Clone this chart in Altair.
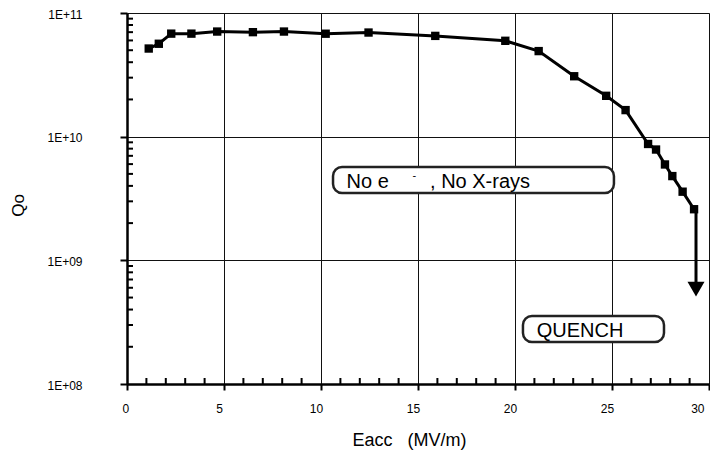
import altair as alt
import pandas as pd

# ---- data ----
eacc = [1.12, 1.64, 2.28, 3.32, 4.65, 6.49, 8.09, 10.24, 12.45, 15.89, 19.50,
        21.22, 23.05, 24.70, 25.70, 26.86, 27.27, 27.73, 28.11, 28.64, 29.23]
q0 = [5.16e10, 5.64e10, 6.81e10, 6.81e10, 7.08e10, 7.00e10, 7.08e10, 6.80e10,
      6.95e10, 6.53e10, 5.96e10, 4.92e10, 3.08e10, 2.14e10, 1.64e10, 8.73e9,
      7.87e9, 5.96e9, 4.80e9, 3.59e9, 2.59e9]

x_ticks = [0, 5, 10, 15, 20, 25, 30]
y_ticks = [1e8, 1e9, 1e10, 1e11]
y_tick_labels = ["1E+08", "1E+09", "1E+10", "1E+11"]
x_minor = [i for i in range(1, 30) if i % 5]
y_minor = [k * 10 ** d for d in (8, 9, 10) for k in range(2, 10)]

# annotation boxes (data units)
box_x1 = [10.62, 20.41]
box_x2 = [25.10, 27.68]
box_y1 = [5.69e9, 3.55e8]
box_y2 = [3.50e9, 2.19e8]

# annotation texts
note_text = ["No e", ", No X-rays", "QUENCH"]
note_x = [11.32, 15.62, 21.12]
note_y = [3.85e9, 3.85e9, 2.42e8]
sup_text = ["-"]
sup_x = [14.81]
sup_y = [4.83e9]

# quench arrow
arrow_x = [29.33]
arrow_top = [2.59e9]
arrow_bottom = [6.32e8]
head_y = [5.86e8]

FONT = "Liberation Sans"

label_expr = " : ".join(
    f"datum.value == {v:g} ? '{l}'" for v, l in zip(y_ticks, y_tick_labels)
) + " : ''"

xscale = alt.Scale(domain=[0, 30], nice=False, zero=False)
yscale = alt.Scale(type="log", domain=[1e8, 1e11], nice=False)

xaxis = alt.Axis(
    values=x_ticks, title="Eacc\u00a0\u00a0\u00a0(MV/m)", grid=True,
    gridColor="#111111", gridWidth=1, domainColor="black", domainWidth=2.5,
    tickColor="black", tickWidth=2, tickSize=6, labelPadding=13,
    labelOffset=-5, labelFont=FONT, labelFontSize=12, labelColor="black",
    titleFont=FONT, titleFontSize=18, titleFontWeight="normal",
    titleColor="black", titleX=282, titleY=61, titleAlign="center",
    titleBaseline="alphabetic",
)
yaxis = alt.Axis(
    values=y_ticks, labelExpr=label_expr, title="Qo", grid=True,
    gridColor="#111111", gridWidth=1, domainColor="black", domainWidth=2.5,
    tickColor="black", tickWidth=2, tickSize=7, labelPadding=38,
    labelOffset=1,
    labelFont=FONT, labelFontSize=12, labelColor="black",
    titleFont=FONT, titleFontSize=17, titleFontWeight="normal",
    titleColor="black", titleX=-109, titleY=192, titleAngle=270,
    titleAlign="center", titleBaseline="middle",
)

def X(field):
    return alt.X(field, type="quantitative", scale=xscale, axis=xaxis)

def Y(field):
    return alt.Y(field, type="quantitative", scale=yscale, axis=yaxis)

df = pd.DataFrame({"Eacc": eacc, "Q0": q0})

line = alt.Chart(df).mark_line(color="black", strokeWidth=3).encode(
    x=X("Eacc"), y=Y("Q0"))
pts = alt.Chart(df).mark_point(shape="square", filled=True, size=70,
                               color="black", opacity=1).encode(
    x=X("Eacc"), y=Y("Q0"))

ymin_df = pd.DataFrame({"v": y_minor})
y_minor_ticks = alt.Chart(ymin_df).mark_rule(color="black", strokeWidth=2).encode(
    x=alt.value(0), x2=alt.value(6), y=Y("v"))
xmin_df = pd.DataFrame({"v": x_minor})
x_minor_ticks = alt.Chart(xmin_df).mark_rule(color="black", strokeWidth=2).encode(
    x=X("v"), y=alt.value(371), y2=alt.value(365))

arrow_df = pd.DataFrame({"x": arrow_x, "top": arrow_top, "bottom": arrow_bottom,
                         "head": head_y})
arrow_line = alt.Chart(arrow_df).mark_rule(color="black", strokeWidth=3).encode(
    x=X("x"), y=Y("top"), y2="bottom")
arrow_head = alt.Chart(arrow_df).mark_point(
    shape="triangle-down", filled=True, size=290, color="black", opacity=1
).encode(x=X("x"), y=Y("head"))

box_df = pd.DataFrame({"x1": box_x1, "x2": box_x2, "y1": box_y1, "y2": box_y2})
shadow = alt.Chart(box_df).mark_rect(
    cornerRadius=9, fill="#333333", xOffset=2, yOffset=3
).encode(x=X("x1"), x2="x2", y=Y("y1"), y2="y2")
box = alt.Chart(box_df).mark_rect(
    cornerRadius=9, fill="white", stroke="#222222", strokeWidth=2.5
).encode(x=X("x1"), x2="x2", y=Y("y1"), y2="y2")

note_df = pd.DataFrame({"t": note_text, "x": note_x, "y": note_y})
notes = alt.Chart(note_df).mark_text(
    align="left", baseline="alphabetic", font=FONT, fontSize=20, color="black"
).encode(x=X("x"), y=Y("y"), text="t:N")
sup_df = pd.DataFrame({"t": sup_text, "x": sup_x, "y": sup_y})
sup = alt.Chart(sup_df).mark_text(
    align="center", baseline="middle", font=FONT, fontSize=11, color="black"
).encode(x=X("x"), y=Y("y"), text="t:N")

chart = alt.layer(
    y_minor_ticks, x_minor_ticks, line, pts, arrow_line, arrow_head,
    shadow, box, notes, sup
).properties(
    width=582, height=371,
    autosize=alt.AutoSizeParams(type="none"),
    padding={"left": 119, "top": 5, "right": 1, "bottom": 68},
).configure_view(stroke="black", strokeWidth=2).configure(background="white")

chart.save("out.html", embed_options={"renderer": "svg", "actions": False})
